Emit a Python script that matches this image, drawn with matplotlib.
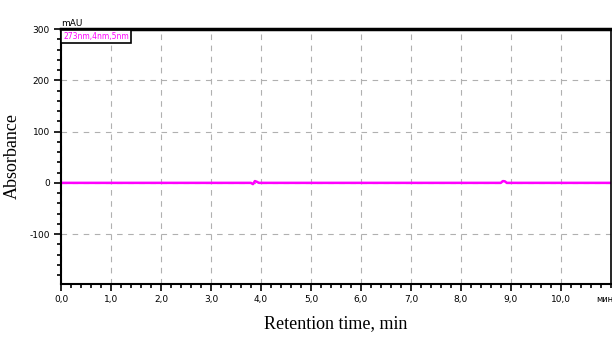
import matplotlib
matplotlib.use('Agg')
import matplotlib.pyplot as plt
from matplotlib.ticker import MultipleLocator

plt.rcParams['axes.unicode_minus'] = False

# chromatogram trace (min, mAU)
time_min = [0.0, 1.0, 2.0, 3.0, 3.80, 3.84, 3.88, 3.92, 3.96, 4.0, 5.0, 6.0, 7.0, 8.0,
            8.80, 8.84, 8.88, 8.92, 8.96, 9.0, 10.0, 11.0]
absorb = [0.0, 0.0, 0.0, 0.0, 0.0, -2.5, 3.5, 2.0, 0.0, 0.0, 0.0, 0.0, 0.0, 0.0,
          0.0, 3.5, 3.0, 0.0, 0.0, 0.0, 0.0, 0.0]
x_ticks = [0, 1, 2, 3, 4, 5, 6, 7, 8, 9, 10]
x_labels = ['0,0', '1,0', '2,0', '3,0', '4,0', '5,0', '6,0', '7,0', '8,0', '9,0', '10,0']
y_ticks = [-100, 0, 100, 200, 300]
legend_txt = '273nm,4nm,5nm'

fig = plt.figure(figsize=(6.12, 3.42), dpi=100)
ax = fig.add_axes([0.0997, 0.170, 0.8983, 0.745])

ax.plot(time_min, absorb, color='#ff00ff', lw=1.8)
ax.set_xlim(0, 11)
ax.set_ylim(-197, 300)

ax.set_xticks(x_ticks)
ax.set_xticklabels(x_labels)
ax.set_yticks(y_ticks)
ax.xaxis.set_minor_locator(MultipleLocator(0.2))
ax.yaxis.set_minor_locator(MultipleLocator(20))
ax.tick_params(which='major', length=5, width=1.2, labelsize=6.5, pad=3, direction='out')
ax.tick_params(which='minor', length=3, width=1.2, direction='out')
ax.grid(True, which='major', color='#b0b0b0', ls=(0, (5, 5)), lw=0.8)

for s in ax.spines.values():
    s.set_color('black')
ax.spines['top'].set_linewidth(2.5)
ax.spines['left'].set_linewidth(1.5)
ax.spines['bottom'].set_linewidth(1.5)
ax.spines['right'].set_linewidth(1.2)

ax.text(0, 1.005, 'mAU', transform=ax.transAxes, fontsize=6.5, ha='left', va='bottom')
ax.text(11.05, -197 - 22, 'мин', fontsize=6, ha='right', va='top')
ax.text(0.04, 294, legend_txt, color='#ff00ff', fontsize=5.5, va='top', ha='left',
        bbox=dict(facecolor='white', edgecolor='black', lw=1.2, pad=1.5))

ax.set_xlabel('Retention time, min', family='Liberation Serif', fontsize=13, labelpad=8)
ax.set_ylabel('Absorbance', family='Liberation Serif', fontsize=13, labelpad=6)

fig.savefig('out.png', dpi=100)
